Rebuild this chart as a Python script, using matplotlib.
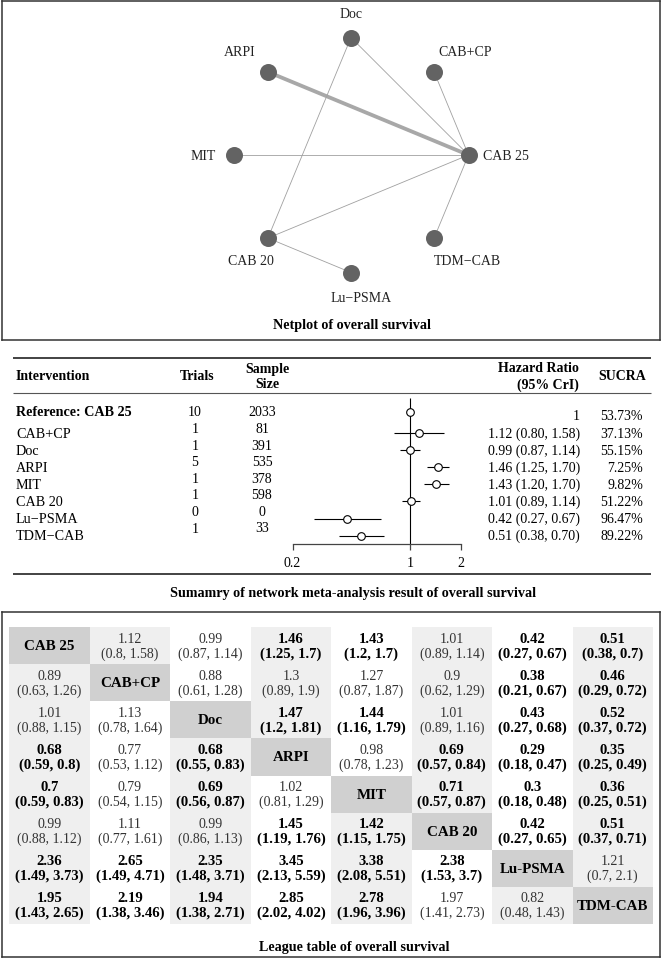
import matplotlib
matplotlib.use("Agg")
import matplotlib.pyplot as plt  # noqa: E402
import numpy as np  # noqa: E402
from matplotlib.patches import Rectangle  # noqa: E402

plt.rcParams["font.family"] = ["Liberation Serif", "DejaVu Serif"]
plt.rcParams["font.size"] = 10

# ---- data -------------------------------------------------------------
# network nodes, clockwise from the top
net_nodes = ["Doc", "CAB+CP", "CAB 25", "TDM−CAB", "Lu−PSMA", "CAB 20", "MIT", "ARPI"]
net_edges = [
    ("ARPI", "CAB 25", 5),
    ("Doc", "CAB 25", 1),
    ("Doc", "CAB 20", 1),
    ("CAB+CP", "CAB 25", 1),
    ("MIT", "CAB 25", 1),
    ("CAB 20", "CAB 25", 1),
    ("CAB 20", "Lu−PSMA", 1),
    ("TDM−CAB", "CAB 25", 1),
]

fp_names = ["Reference: CAB 25", "CAB+CP", "Doc", "ARPI", "MIT", "CAB 20", "Lu−PSMA", "TDM−CAB"]
fp_trials = [10, 1, 1, 5, 1, 1, 0, 1]
fp_sample = [2033, 81, 391, 535, 378, 598, 0, 33]
fp_hr = [1, 1.12, 0.99, 1.46, 1.43, 1.01, 0.42, 0.51]
fp_lo = [1, 0.80, 0.87, 1.25, 1.20, 0.89, 0.27, 0.38]
fp_hi = [1, 1.58, 1.14, 1.70, 1.70, 1.14, 0.67, 0.70]
fp_sucra = [53.73, 37.13, 55.15, 7.25, 9.82, 51.22, 96.47, 89.22]

league_names = ["CAB 25", "CAB+CP", "Doc", "ARPI", "MIT", "CAB 20", "Lu-PSMA", "TDM-CAB"]
league_est = [
    [None, 1.12, 0.99, 1.46, 1.43, 1.01, 0.42, 0.51],
    [0.89, None, 0.88, 1.3, 1.27, 0.9, 0.38, 0.46],
    [1.01, 1.13, None, 1.47, 1.44, 1.01, 0.43, 0.52],
    [0.68, 0.77, 0.68, None, 0.98, 0.69, 0.29, 0.35],
    [0.7, 0.79, 0.69, 1.02, None, 0.71, 0.3, 0.36],
    [0.99, 1.11, 0.99, 1.45, 1.42, None, 0.42, 0.51],
    [2.36, 2.65, 2.35, 3.45, 3.38, 2.38, None, 1.21],
    [1.95, 2.19, 1.94, 2.85, 2.78, 1.97, 0.82, None],
]
league_lo = [
    [None, 0.8, 0.87, 1.25, 1.2, 0.89, 0.27, 0.38],
    [0.63, None, 0.61, 0.89, 0.87, 0.62, 0.21, 0.29],
    [0.88, 0.78, None, 1.2, 1.16, 0.89, 0.27, 0.37],
    [0.59, 0.53, 0.55, None, 0.78, 0.57, 0.18, 0.25],
    [0.59, 0.54, 0.56, 0.81, None, 0.57, 0.18, 0.25],
    [0.88, 0.77, 0.86, 1.19, 1.15, None, 0.27, 0.37],
    [1.49, 1.49, 1.48, 2.13, 2.08, 1.53, None, 0.7],
    [1.43, 1.38, 1.38, 2.02, 1.96, 1.41, 0.48, None],
]
league_hi = [
    [None, 1.58, 1.14, 1.7, 1.7, 1.14, 0.67, 0.7],
    [1.26, None, 1.28, 1.9, 1.87, 1.29, 0.67, 0.72],
    [1.15, 1.64, None, 1.81, 1.79, 1.16, 0.68, 0.72],
    [0.8, 1.12, 0.83, None, 1.23, 0.84, 0.47, 0.49],
    [0.83, 1.15, 0.87, 1.29, None, 0.87, 0.48, 0.51],
    [1.12, 1.61, 1.13, 1.76, 1.75, None, 0.65, 0.71],
    [3.73, 4.71, 3.71, 5.59, 5.51, 3.7, None, 2.1],
    [2.65, 3.46, 2.71, 4.02, 3.96, 2.73, 1.43, None],
]
# cells printed in bold in the source table
league_bold = [
    [0, 0, 0, 1, 1, 0, 1, 1],
    [0, 0, 0, 0, 0, 0, 1, 1],
    [0, 0, 0, 1, 1, 0, 1, 1],
    [1, 0, 1, 0, 0, 1, 1, 1],
    [1, 0, 1, 0, 0, 1, 1, 1],
    [0, 0, 0, 1, 1, 0, 1, 1],
    [1, 1, 1, 1, 1, 1, 0, 0],
    [1, 1, 1, 1, 1, 0, 0, 0],
]

# ---- layout helpers ---------------------------------------------------
W, H = 662, 962
fig = plt.figure(figsize=(W / 100, H / 100), dpi=100)


def px_axes(x0, y0, x1, y1):
    """Axes placed by pixel box measured from the top-left corner."""
    return fig.add_axes([x0 / W, 1 - y1 / H, (x1 - x0) / W, (y1 - y0) / H])


def boxed(ax):
    ax.set_xticks([])
    ax.set_yticks([])
    for s in ax.spines.values():
        s.set_linewidth(1.1)
        s.set_color("#333333")


# ---- netplot ----------------------------------------------------------
bx0, by0, bx1, by1 = 2, 2, 660, 341
cx, cy, rad = 351, 156, 117.5
ax_net = px_axes(bx0, by0, bx1, by1)
boxed(ax_net)
ax_net.set_xlim((bx0 - cx) / rad, (bx1 - cx) / rad)
ax_net.set_ylim(-(by1 - cy) / rad, (cy - by0) / rad)

ang = np.deg2rad(90 - 45 * np.arange(len(net_nodes)))
pos = {n: (np.cos(a), np.sin(a)) for n, a in zip(net_nodes, ang)}

for a, b, n in net_edges:
    (x1, y1), (x2, y2) = pos[a], pos[b]
    thick = n > 1
    ax_net.plot([x1, x2], [y1, y2], color="#a8a8a8" if thick else "#a0a0a0",
                lw=0.55 * n if thick else 0.6, zorder=1, solid_capstyle="butt")

ax_net.scatter([pos[n][0] for n in net_nodes], [pos[n][1] for n in net_nodes],
               s=150, color="#636363", zorder=3, linewidths=0)

label_off = {
    "Doc": ((0, 17), "center"),
    "CAB+CP": ((22, 14.4), "center"),
    "CAB 25": ((10.5, 0), "left"),
    "TDM−CAB": ((24, -15.8), "center"),
    "Lu−PSMA": ((7.2, -18), "center"),
    "CAB 20": ((-12, -15.8), "center"),
    "MIT": ((-13, 0), "right"),
    "ARPI": ((-20, 14.4), "center"),
}
for n in net_nodes:
    off, ha = label_off[n]
    ax_net.annotate(n, pos[n], xytext=off, textcoords="offset points",
                    ha=ha, va="center", fontsize=10, color="#222222")

ax_net.text((352 - bx0) / (bx1 - bx0), 1 - (325 - by0) / (by1 - by0),
            "Netplot of overall survival", transform=ax_net.transAxes,
            ha="center", va="center", fontsize=10.2, fontweight="bold")

# ---- forest / summary table ------------------------------------------
unit, row0 = 17.1, 413
py0, py1 = 345, 605


def u(p):
    return (p - row0) / unit


ax_tab = px_axes(0, py0, W, py1)
ax_tab.set_xlim(0, W)
ax_tab.set_ylim(u(py1), u(py0))
ax_tab.axis("off")

fp_y = [i + (0.23 if i else 0) for i in range(len(fp_names))]

ax_tab.hlines([u(358.5), u(574.5)], 12.7, 651, color="#222222", lw=1.2)
ax_tab.hlines(u(394), 12.7, 651, color="#555555", lw=0.8)

hy = u(377)
ax_tab.text(16, hy, "Intervention", ha="left", va="center", fontweight="bold")
ax_tab.text(197, hy, "Trials", ha="center", va="center", fontweight="bold")
ax_tab.text(267, hy, "Sample\nSize", ha="center", va="center", fontweight="bold",
            linespacing=1.3)
ax_tab.text(579, hy, "Hazard Ratio\n(95% CrI)", ha="right", va="center",
            fontweight="bold", multialignment="right", linespacing=1.3)
ax_tab.text(622.5, hy, "SUCRA", ha="center", va="center", fontweight="bold")

for i, name in enumerate(fp_names):
    y = fp_y[i]
    ax_tab.text(16, y, name, ha="left", va="center",
                fontweight="bold" if i == 0 else "normal", fontsize=10.2)
    ax_tab.text(195, i * 0.97, str(fp_trials[i]), ha="center", va="center")
    ax_tab.text(262, i * 0.965, str(fp_sample[i]), ha="center", va="center")
    if i == 0:
        hr_txt = f"{fp_hr[i]:g}"
        y = y + 0.18
    else:
        hr_txt = f"{fp_hr[i]:.2f} ({fp_lo[i]:.2f}, {fp_hi[i]:.2f})"
    ax_tab.text(580, y, hr_txt, ha="right", va="center")
    ax_tab.text(643, y, f"{fp_sucra[i]:.2f}%", ha="right", va="center")

ax_tab.text(353, u(593), "Sumamry of network meta-analysis result of overall survival",
            ha="center", va="center", fontweight="bold", fontsize=10.2)

ax_f = px_axes(292.5, py0, 461, py1)
ax_f.patch.set_alpha(0)
ax_f.set_xscale("log")
ax_f.set_xlim(0.2, 2)
ax_f.set_ylim(u(py1), u(py0))
for s in ("left", "right", "top"):
    ax_f.spines[s].set_visible(False)
ax_f.spines["bottom"].set_position(("data", u(545)))
ax_f.spines["bottom"].set_color("#444444")
ax_f.spines["bottom"].set_linewidth(0.9)
ax_f.set_yticks([])
ax_f.set_xticks([0.2, 1, 2])
ax_f.set_xticklabels(["0.2", "1", "2"])
ax_f.xaxis.set_minor_locator(matplotlib.ticker.NullLocator())
ax_f.tick_params(axis="x", length=4.3, width=0.9, color="#444444", pad=4,
                 labelsize=10)
ax_f.vlines(1, u(399), u(545), color="black", lw=0.8)
ax_f.hlines(fp_y, fp_lo, fp_hi, color="black", lw=0.8)
ax_f.plot(fp_hr, fp_y, "o", ms=5.5, mfc="white", mec="black", mew=0.8, zorder=3)

# ---- league table -----------------------------------------------------
lx0, ly0, lx1, ly1 = 2, 612.7, 659.5, 958
ax_lbox = px_axes(lx0, ly0, lx1, ly1)
boxed(ax_lbox)
ax_lbox.text((354 - lx0) / (lx1 - lx0), 1 - (948 - ly0) / (ly1 - ly0),
             "League table of overall survival", transform=ax_lbox.transAxes,
             ha="center", va="center", fontweight="bold", fontsize=10.2)

n = len(league_names)
ax_lg = px_axes(9.3, 628, 653, 925)
ax_lg.set_xlim(0, n)
ax_lg.set_ylim(n, 0)
ax_lg.axis("off")

for i in range(n):
    for j in range(n):
        if i == j:
            fc = "#d0d0d0"
        elif (j < i and j % 2 == 0) or (j > i and j % 2 == 1):
            fc = "#efefef"
        else:
            fc = "white"
        ax_lg.add_patch(Rectangle((j, i), 1, 1, facecolor=fc, edgecolor="none"))
        if i == j:
            ax_lg.text(j + 0.5, i + 0.5, league_names[i], ha="center", va="center",
                       fontweight="bold", fontsize=10.8)
            continue
        est, lo, hi = league_est[i][j], league_lo[i][j], league_hi[i][j]
        bold = bool(league_bold[i][j])
        ax_lg.text(j + 0.5, i + 0.5, f"{est:g}\n({lo:g}, {hi:g})",
                   ha="center", va="center", linespacing=1.15,
                   fontweight="bold" if bold else "normal",
                   fontsize=10.6 if bold else 10,
                   color="black" if bold else "#333333")

fig.savefig("out.png", dpi=100)
